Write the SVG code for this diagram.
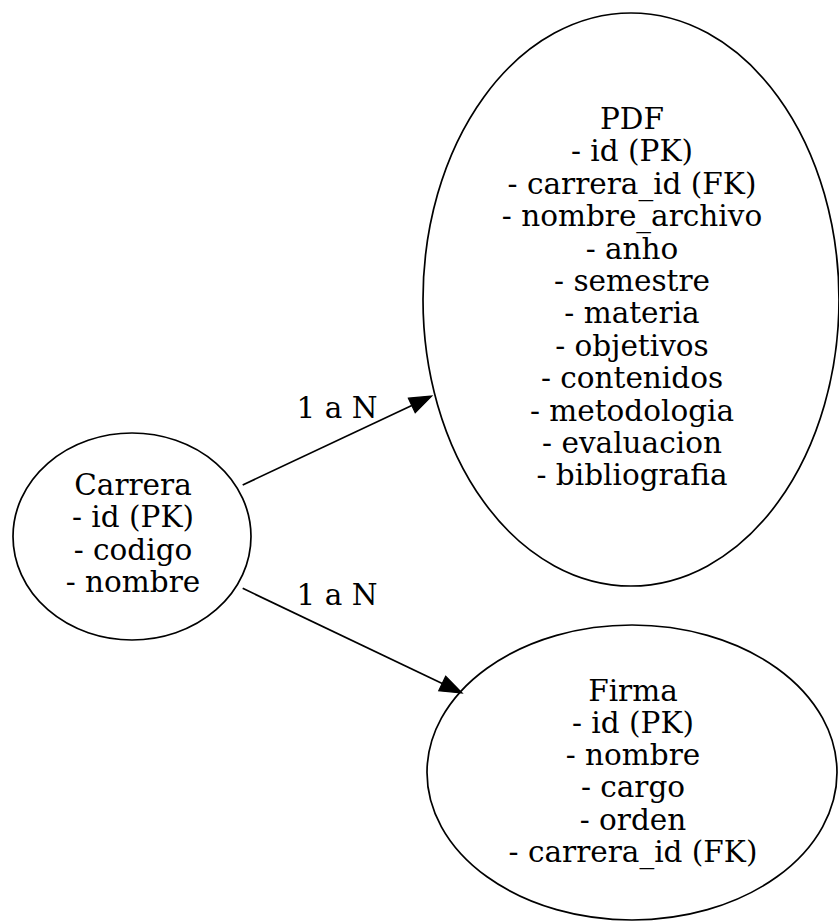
<svg xmlns="http://www.w3.org/2000/svg" width="839" height="921" viewBox="0 0 839 921">
<defs>
<style>
.node ellipse{fill:none;stroke:#000;stroke-width:1.7}
text{font-family:"DejaVu Serif","Liberation Serif",serif;font-size:29.5px;fill:#000;text-anchor:middle}
.edge line{stroke:#000;stroke-width:1.7}
</style>
<marker id="arr" markerUnits="userSpaceOnUse" markerWidth="24" markerHeight="18" refX="0" refY="8" orient="auto" overflow="visible">
<path d="M0,0 L22,8 L0,16 z" fill="#000" stroke="#000" stroke-width="1.2"/>
</marker>
</defs>
<rect width="839" height="921" fill="#fff"/>
<g id="connectors" class="edge">
<line x1="242.7" y1="485" x2="411.8" y2="405.4" marker-end="url(#arr)"/>
<text x="337" y="418">1 a N</text>
<line x1="242.7" y1="588.3" x2="442.2" y2="683.5" marker-end="url(#arr)"/>
<text x="337" y="605">1 a N</text>
</g>
<g id="carrera" class="node">
<ellipse cx="132" cy="536.5" rx="119" ry="103.5"/>
<text x="133" y="495">Carrera</text>
<text x="133" y="527.3">- id (PK)</text>
<text x="133" y="559.6">- codigo</text>
<text x="133" y="591.9">- nombre</text>
</g>
<g id="pdf" class="node">
<ellipse cx="631" cy="299.5" rx="208" ry="286.5"/>
<text x="632" y="129">PDF</text>
<text x="632" y="161.4">- id (PK)</text>
<text x="632" y="193.8">- carrera_id (FK)</text>
<text x="632" y="226.2">- nombre_archivo</text>
<text x="632" y="258.6">- anho</text>
<text x="632" y="291">- semestre</text>
<text x="632" y="323.4">- materia</text>
<text x="632" y="355.8">- objetivos</text>
<text x="632" y="388.2">- contenidos</text>
<text x="632" y="420.6">- metodologia</text>
<text x="632" y="453">- evaluacion</text>
<text x="632" y="485.4">- bibliografia</text>
</g>
<g id="firma" class="node">
<ellipse cx="632" cy="772.5" rx="205" ry="147.5"/>
<text x="633" y="700.7">Firma</text>
<text x="633" y="732.9">- id (PK)</text>
<text x="633" y="765.1">- nombre</text>
<text x="633" y="797.3">- cargo</text>
<text x="633" y="829.5">- orden</text>
<text x="633" y="861.7">- carrera_id (FK)</text>
</g>
</svg>
